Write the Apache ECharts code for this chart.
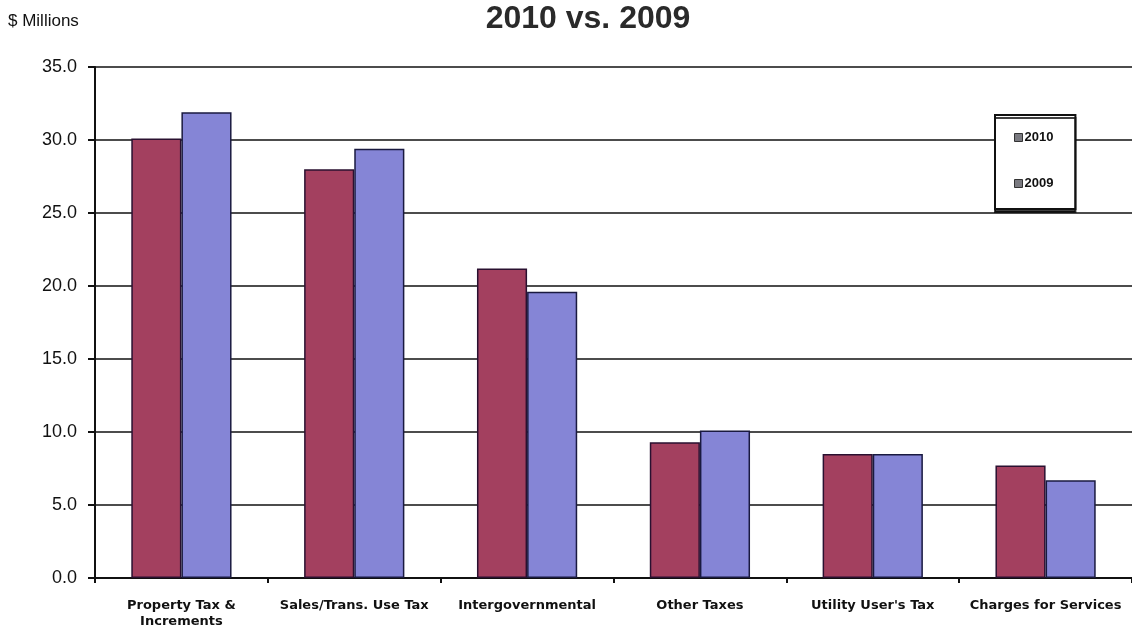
<!DOCTYPE html>
<html><head><meta charset="utf-8">
<script src="https://cdn.jsdelivr.net/npm/echarts@6/dist/echarts.min.js"></script>
<style>html,body{margin:0;padding:0;background:#fff}#c{width:1132px;height:630px}</style>
</head><body><div id="c"></div>
<script>
const categories = ["Property Tax &\nIncrements", "Sales/Trans. Use Tax", "Intergovernmental", "Other Taxes", "Utility User's Tax", "Charges for Services"];
const values2010 = [30.1, 28.0, 21.2, 9.3, 8.5, 7.7];
const values2009 = [31.9, 29.4, 19.6, 10.1, 8.5, 6.7];
const yTicks = [0, 5, 10, 15, 20, 25, 30, 35];

const chart = echarts.init(document.getElementById('c'));
chart.setOption({
  animation: false,
  backgroundColor: '#fff',
  title: [
    {text: '2010 vs. 2009', left: 583, top: -2, textAlign: 'center',
     textStyle: {fontFamily: 'Liberation Sans, Arial', fontSize: 32, fontWeight: 'bold', color: '#2a2a2a'}},
    {text: '$ Millions', left: 3, top: 8,
     textStyle: {fontFamily: 'Liberation Sans, Arial', fontSize: 17, fontWeight: 'normal', color: '#111'}}
  ],
  legend: {
    orient: 'vertical', left: 995, top: 115,
    padding: [16, 22, 19, 19], itemGap: 33,
    backgroundColor: '#fff', borderColor: '#111', borderWidth: 2,
    shadowColor: 'rgba(0,0,0,0.75)', shadowOffsetY: 3, shadowBlur: 0,
    itemWidth: 8, itemHeight: 8, icon: 'rect',
    textStyle: {fontFamily: 'Liberation Sans, Arial', fontSize: 13, fontWeight: 'bold', color: '#111', padding: [0, 0, 0, -3]},
    data: [
      {name: '2010', itemStyle: {color: '#7a7a80', borderColor: '#333', borderWidth: 1}},
      {name: '2009', itemStyle: {color: '#7a7a80', borderColor: '#333', borderWidth: 1}}
    ]
  },
  grid: {left: 95, top: 67, right: 0, height: 511, containLabel: false},
  xAxis: {
    type: 'category', data: categories,
    axisLine: {lineStyle: {color: '#111', width: 2}},
    axisTick: {show: true, length: 5, inside: false, lineStyle: {color: '#111', width: 2}},
    axisLabel: {interval: 0, margin: 20, lineHeight: 16, fontFamily: 'DejaVu Sans', fontSize: 13, fontWeight: 'bold', color: '#111'}
  },
  yAxis: {
    type: 'value', min: 0, max: 35, interval: 5,
    axisLine: {show: true, lineStyle: {color: '#111', width: 2}},
    axisTick: {show: true, length: 7, lineStyle: {color: '#111', width: 2}},
    axisLabel: {margin: 18, fontFamily: 'Liberation Sans, Arial', fontSize: 18, color: '#111',
      formatter: v => yTicks.includes(v) ? v.toFixed(1) : ''},
    splitLine: {lineStyle: {color: '#111', width: 1.5}}
  },
  series: [
    {name: '2010', type: 'bar', data: values2010, barGap: '0%', barCategoryGap: '42%',
     itemStyle: {color: '#A3405F', borderColor: '#2a1030', borderWidth: 1.5}},
    {name: '2009', type: 'bar', data: values2009,
     itemStyle: {color: '#8585D6', borderColor: '#1a1a40', borderWidth: 1.5}}
  ]
});
</script></body></html>
